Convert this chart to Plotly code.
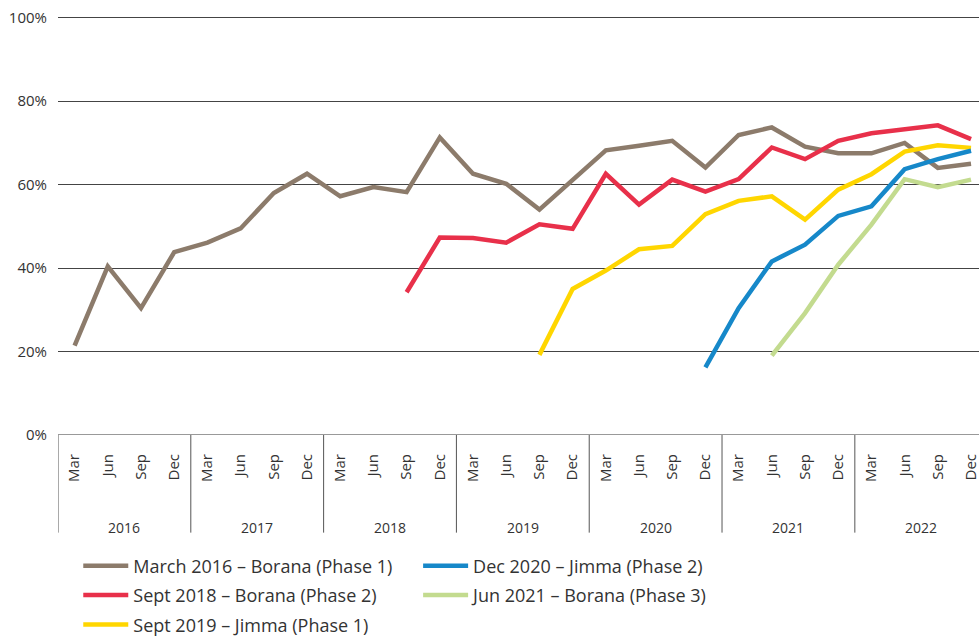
import plotly.graph_objects as go

years = ["2016", "2017", "2018", "2019", "2020", "2021", "2022"]
months = ["Mar", "Jun", "Sep", "Dec"]
y_ticks = [0, 20, 40, 60, 80, 100]
y_tick_labels = ["0%", "20%", "40%", "60%", "80%", "100%"]

N = None
borana_p1 = [21.4, 40.4, 30.4, 43.8, 46.1, 49.5, 58.0, 62.6,
             57.2, 59.4, 58.2, 71.3, 62.6, 60.2, 54.0, 61.0,
             68.2, 69.3, 70.5, 64.1, 71.9, 73.7, 69.1, 67.5,
             67.5, 70.0, 64.0, 65.0]
borana_p2 = [N, N, N, N, N, N, N, N,
             N, N, 34.2, 47.3, 47.2, 46.1, 50.5, 49.4,
             62.6, 55.2, 61.2, 58.3, 61.3, 68.9, 66.1, 70.5,
             72.3, 73.3, 74.2, 70.9]
jimma_p1 = [N, N, N, N, N, N, N, N,
            N, N, N, N, N, N, 19.2, 35.0,
            39.4, 44.5, 45.3, 52.9, 56.1, 57.2, 51.6, 58.8,
            62.5, 67.9, 69.4, 68.8]
jimma_p2 = [N, N, N, N, N, N, N, N,
            N, N, N, N, N, N, N, N,
            N, N, N, 16.2, 30.4, 41.6, 45.6, 52.5,
            54.8, 63.7, 66.1, 68.1]
borana_p3 = [N, N, N, N, N, N, N, N,
             N, N, N, N, N, N, N, N,
             N, N, N, N, N, 19.0, 29.2, 40.8,
             50.4, 61.3, 59.4, 61.2]

series = [
    ("March 2016 – Borana (Phase 1)", borana_p1, "#8c7b6b", "legend"),
    ("Sept 2018 – Borana (Phase 2)", borana_p2, "#e8304a", "legend"),
    ("Sept 2019 – Jimma (Phase 1)", jimma_p1, "#ffd600", "legend"),
    ("Dec 2020 – Jimma (Phase 2)", jimma_p2, "#1688c9", "legend2"),
    ("Jun 2021 – Borana (Phase 3)", borana_p3, "#c3db8f", "legend2"),
]

periods = [(y, m) for y in years for m in months]
xs = list(range(len(periods)))
month_labels = [m for _, m in periods]

FONT = "Open Sans"
TXT = "#333333"

fig = go.Figure()
for name, vals, color, lg in series:
    fig.add_trace(go.Scatter(
        x=xs, y=vals, name=name, mode="lines",
        line=dict(color=color, width=4.5),
        connectgaps=False, legend=lg, legendgroup=name,
    ))

# year separators and labels
for i, yr in enumerate(years):
    fig.add_shape(type="line", xref="x", yref="paper",
                  x0=i * 4 - 0.5, x1=i * 4 - 0.5, y0=0, y1=-0.233,
                  line=dict(color="#555555", width=1))
    fig.add_annotation(x=i * 4 + 1.5, xref="x", yref="paper", y=-0.221,
                       text=yr, showarrow=False, yanchor="middle",
                       font=dict(family=FONT, size=14, color=TXT))
fig.add_shape(type="line", xref="x", yref="paper",
              x0=len(periods) - 0.5, x1=len(periods) - 0.5, y0=0, y1=-0.233,
              line=dict(color="#555555", width=1))

leg_common = dict(
    orientation="v", yanchor="top", xanchor="left", yref="container",
    font=dict(family=FONT, size=18, color=TXT),
    itemwidth=45, traceorder="grouped", tracegroupgap=3,
    bgcolor="rgba(0,0,0,0)",
)

fig.update_layout(
    width=979, height=637,
    margin=dict(l=58, r=0, t=16, b=202, autoexpand=False),
    plot_bgcolor="white", paper_bgcolor="white",
    font=dict(family=FONT, color=TXT, size=15),
    showlegend=True,
    legend=dict(x=0.022, y=0.1405, **leg_common),
    legend2=dict(x=0.391, y=0.1405, **leg_common),
    xaxis=dict(
        range=[-0.5, 27.24], tickmode="array", tickvals=xs,
        ticktext=month_labels, tickangle=-90, showgrid=False,
        zeroline=False, showline=False, ticks="",
        ticklabeloverflow="allow",
        ticklabelstandoff=15, tickfont=dict(family=FONT, size=15, color=TXT),
    ),
    yaxis=dict(
        range=[0, 100.4], tickvals=y_ticks, ticktext=y_tick_labels,
        showgrid=True, gridcolor="#444444", gridwidth=1,
        zeroline=False, showline=False, ticks="",
        ticklabelstandoff=10, tickfont=dict(family=FONT, size=15, color=TXT),
    ),
)
fig.add_hline(y=0, line=dict(color="#777777", width=1.5))

fig.write_html("out.html", config={"displayModeBar": False},
               post_script="document.body.style.margin='0';")
